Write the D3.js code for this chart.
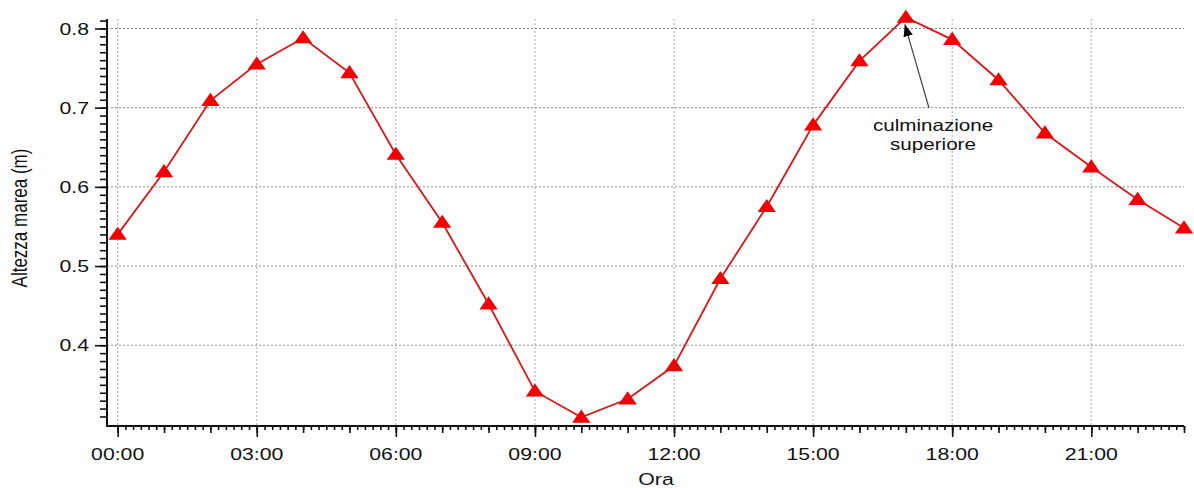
<!DOCTYPE html>
<html>
<head>
<meta charset="utf-8">
<script src="https://cdn.jsdelivr.net/npm/d3@7"></script>
<style>
  html, body { margin: 0; padding: 0; background: #fff; }
  svg { display: block; font-family: "Liberation Sans", Arial, Helvetica, sans-serif; }
</style>
</head>
<body>
<div id="chart"></div>
<script>
// ── Data ──
const hours = [0, 1, 2, 3, 4, 5, 6, 7, 8, 9, 10, 11, 12, 13, 14, 15, 16, 17, 18, 19, 20, 21, 22, 23];
const heights = [0.540, 0.619, 0.709, 0.755, 0.788, 0.744, 0.641, 0.555, 0.452, 0.342, 0.309, 0.332,
                 0.374, 0.484, 0.575, 0.678, 0.759, 0.814, 0.786, 0.735, 0.668, 0.625, 0.584, 0.548];
const xTickHours = [0, 3, 6, 9, 12, 15, 18, 21];
const xTickLabels = ["00:00", "03:00", "06:00", "09:00", "12:00", "15:00", "18:00", "21:00"];
const yTickValues = [0.4, 0.5, 0.6, 0.7, 0.8];
const yTickLabels = ["0.4", "0.5", "0.6", "0.7", "0.8"];
const annotation = { hour: 17, lines: ["culminazione", "superiore"] };

const W = 1194, H = 488;
const M = { t: 19, r: 10, b: 62, l: 107 };
const SX = 1.25; // the source chart is stretched horizontally

const svg = d3.select("#chart").append("svg").attr("width", W).attr("height", H);

const x = d3.scaleLinear().domain([-0.23, 23]).range([M.l, W - M.r]);
const y = d3.scaleLinear().domain([0.298, 0.812]).range([H - M.b, M.t]);

const y0 = H - M.b;

// ── Gridlines ──
const grid = svg.append("g");
grid.selectAll("line.h").data(yTickValues).join("line")
  .attr("x1", M.l).attr("x2", W - M.r)
  .attr("y1", d => y(d)).attr("y2", d => y(d))
  .attr("stroke", "#8a8a95").attr("stroke-width", 1).attr("stroke-dasharray", "2,2");
grid.selectAll("line.v").data(xTickHours).join("line")
  .attr("x1", d => x(d)).attr("x2", d => x(d))
  .attr("y1", M.t).attr("y2", y0)
  .attr("stroke", "#a4a8c0").attr("stroke-width", 1).attr("stroke-dasharray", "2,2");

// ── Axes ──
function styleAxis(g) {
  g.select(".domain").remove();
  g.selectAll("line").attr("stroke", "#111").attr("stroke-width", 1.6);
}

// y minor ticks (every 0.01)
svg.append("g").attr("transform", `translate(${M.l},0)`)
  .call(d3.axisLeft(y).tickValues(d3.range(31, 82).map(d => d / 100)).tickSize(7).tickFormat(""))
  .call(styleAxis);
// y major ticks
svg.append("g").attr("transform", `translate(${M.l},0)`)
  .call(d3.axisLeft(y).tickValues(yTickValues).tickSize(12).tickFormat(""))
  .call(styleAxis);

// x minor ticks (every 10 min)
svg.append("g").attr("transform", `translate(0,${y0})`)
  .call(d3.axisBottom(x).tickValues(d3.range(0, 139).map(d => d / 6)).tickSize(4).tickFormat(""))
  .call(styleAxis);
// x hourly ticks
svg.append("g").attr("transform", `translate(0,${y0})`)
  .call(d3.axisBottom(x).tickValues(hours).tickSize(7).tickFormat(""))
  .call(styleAxis);
// x major ticks
svg.append("g").attr("transform", `translate(0,${y0})`)
  .call(d3.axisBottom(x).tickValues(xTickHours).tickSize(11).tickFormat(""))
  .call(styleAxis);

// axis lines
svg.append("line").attr("x1", M.l).attr("x2", M.l).attr("y1", M.t).attr("y2", y0 + 1)
  .attr("stroke", "#111").attr("stroke-width", 2);
svg.append("line").attr("x1", M.l - 1).attr("x2", W - M.r).attr("y1", y0).attr("y2", y0)
  .attr("stroke", "#111").attr("stroke-width", 2);

// ── Text helper (stretched horizontally like the source) ──
function label(px, py, txt, anchor, size, rotate) {
  const tr = rotate ? `translate(${px},${py}) rotate(-90) scale(1,${SX})` : `translate(${px},${py}) scale(${SX},1)`;
  return svg.append("text")
    .attr("transform", tr)
    .attr("text-anchor", anchor)
    .attr("font-size", size + "px")
    .attr("fill", "#111")
    .text(txt);
}

yTickValues.forEach((v, i) => label(89, y(v) + 6, yTickLabels[i], "end", 17));
xTickHours.forEach((h, i) => label(x(h), 460, xTickLabels[i], "middle", 17));

label(656, 485, "Ora", "middle", 17);
label(27, 218, "Altezza marea (m)", "middle", 17, true);

// ── Series ──
const pts = hours.map((h, i) => ({ h, v: heights[i] }));

svg.append("path").datum(pts)
  .attr("d", d3.line().x(d => x(d.h)).y(d => y(d.v)))
  .attr("fill", "none").attr("stroke", "#d81818").attr("stroke-width", 1.8);

const tri = d3.symbol().type(d3.symbolTriangle).size(110);
svg.selectAll("path.tri").data(pts).join("path")
  .attr("class", "tri")
  .attr("transform", d => `translate(${x(d.h)},${y(d.v) + 1}) scale(1.15,0.95)`)
  .attr("d", tri)
  .attr("fill", "#f00000");

// ── Annotation ──
const peak = heights[hours.indexOf(annotation.hour)];
const tipX = x(annotation.hour) - 1, tipY = y(peak) + 7;
const tailX = 929, tailY = 108;

svg.append("defs").append("marker")
  .attr("id", "arrow").attr("viewBox", "0 0 10 10")
  .attr("refX", 10).attr("refY", 5)
  .attr("markerWidth", 12).attr("markerHeight", 12)
  .attr("markerUnits", "userSpaceOnUse")
  .attr("orient", "auto")
  .append("path").attr("d", "M0,1 L10,5 L0,9 Z").attr("fill", "#000");

svg.append("line")
  .attr("x1", tailX).attr("y1", tailY).attr("x2", tipX).attr("y2", tipY)
  .attr("stroke", "#444").attr("stroke-width", 1.2)
  .attr("marker-end", "url(#arrow)");

label(933, 131, annotation.lines[0], "middle", 16.5);
label(933, 150, annotation.lines[1], "middle", 16.5);
</script>
</body>
</html>
